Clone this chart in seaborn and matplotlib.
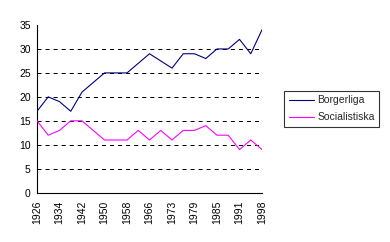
import matplotlib
matplotlib.use("Agg")
import matplotlib.pyplot as plt
import seaborn as sns
import pandas as pd
from matplotlib.lines import Line2D

years = ["1926", "1930", "1934", "1938", "1942", "1946", "1950", "1954", "1958", "1962",
         "1966", "1970", "1973", "1976", "1979", "1982", "1985", "1988", "1991", "1994", "1998"]
borgerliga = [17, 20, 19, 17, 21, 23, 25, 25, 25, 27, 29, 27.5, 26, 29, 29, 28, 30, 30, 32, 29, 34]
socialistiska = [15, 12, 13, 15, 15, 13, 11, 11, 11, 13, 11, 13, 11, 13, 13, 14, 12, 12, 9, 11, 9]
series_names = ["Borgerliga", "Socialistiska"]
colors = ["#000080", "#FF00FF"]
y_ticks = [0, 5, 10, 15, 20, 25, 30, 35]
grid_vals = [5, 10, 15, 20, 25, 30]

sns.set_style("white")
plt.rcParams["font.family"] = ["Liberation Sans", "DejaVu Sans"]
plt.rcParams["lines.scale_dashes"] = False

n = len(years)
df = pd.DataFrame({
    "pos": list(range(n)) * 2,
    "value": borgerliga + socialistiska,
    "serie": [series_names[0]] * n + [series_names[1]] * n,
})

fs = 7.5
fig = plt.figure(figsize=(3.9, 2.42), dpi=100)
ax = fig.add_axes([37 / 390, 49.3 / 242, 225 / 390, 167.7 / 242])

ax.hlines(grid_vals, 0, n - 1, colors="black", linewidth=0.72,
          linestyles=(0, (2.9, 2.9)), zorder=1)

sns.lineplot(data=df, x="pos", y="value", hue="serie", palette=colors,
             hue_order=series_names, linewidth=0.8, ax=ax, legend=False, zorder=3)

ax.set_xlim(0, n - 1)
ax.set_ylim(0, 35)
ax.set_xlabel("")
ax.set_ylabel("")
ax.set_xticks(range(n))
ax.set_xticklabels([y if i % 2 == 0 else "" for i, y in enumerate(years)],
                   rotation=90, fontsize=fs)
ax.set_yticks(y_ticks)
ax.set_yticklabels([str(v) for v in y_ticks], fontsize=fs)
ax.tick_params(axis="both", direction="inout", length=5, width=0.72,
               color="black", labelcolor="black", pad=2)
ax.tick_params(axis="x", pad=3)

for s in ["top", "right"]:
    ax.spines[s].set_visible(False)
for s in ["left", "bottom"]:
    ax.spines[s].set_color("black")
    ax.spines[s].set_linewidth(0.8)

handles = [Line2D([], [], color=c, linewidth=0.8) for c in colors]
leg = fig.legend(handles, series_names, loc="upper left",
                 bbox_to_anchor=(284 / 390, 1 - 90.7 / 242),
                 fontsize=fs, frameon=True, fancybox=False, handlelength=2.45,
                 handletextpad=0.3, borderpad=0.45, labelspacing=0.65,
                 borderaxespad=0)
leg.get_frame().set_edgecolor("black")
leg.get_frame().set_linewidth(0.8)

fig.savefig("out.png", dpi=100)
